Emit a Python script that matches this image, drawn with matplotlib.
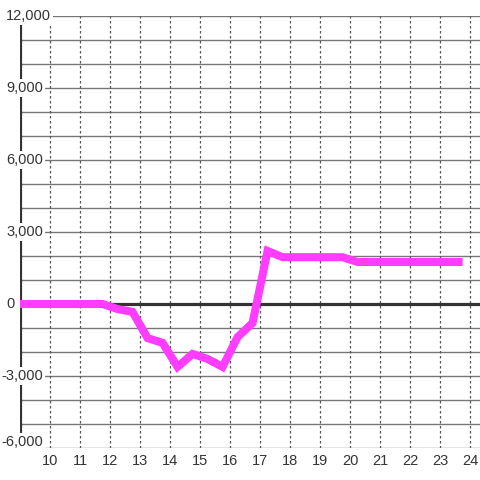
import matplotlib.pyplot as plt
from matplotlib.transforms import ScaledTranslation

plt.rcParams['font.family'] = ['Liberation Sans', 'DejaVu Sans']

# half-hour samples
hours = [9.25, 9.75, 10.25, 10.75, 11.25, 11.75, 12.25, 12.75, 13.25, 13.75,
         14.25, 14.75, 15.25, 15.75, 16.25, 16.75, 17.25, 17.75, 18.25, 18.75,
         19.25, 19.75, 20.25, 20.75, 21.25, 21.75, 22.25, 22.75, 23.25, 23.75]
values = [0, 0, 0, 0, 0, 0, -210, -330, -1420, -1620,
          -2620, -2080, -2290, -2620, -1380, -790, 2210, 1950, 1950, 1950,
          1950, 1950, 1750, 1750, 1750, 1750, 1750, 1750, 1750, 1750]

x_ticks = list(range(10, 25))
y_ticks = [-6000, -3000, 0, 3000, 6000, 9000, 12000]
y_labels = ['-6,000', '-3,000', '0', '3,000', '6,000', '9,000', '12,000']

fig = plt.figure(figsize=(4.8, 4.8), dpi=100)
ax = fig.add_axes([20 / 480, 1 - 448 / 480, 460 / 480, 432 / 480])

ax.set_xlim(9.0, 24.33)
ax.set_ylim(-6000, 12000)

# grid
for y in range(-6000, 12001, 1000):
    ax.axhline(y, color='#777777', lw=1.0, zorder=1)
for x in x_ticks:
    ax.axvline(x, color='#555555', lw=0.9, ls=(0, (2, 2)), zorder=1)

ax.axhline(0, color='#333333', lw=2.3, zorder=2)
ax.axvline(9.0, color='#333333', lw=2.3, zorder=2)

ax.plot([9.0] + hours, [0] + values, color='#ff3cff', lw=5.8,
        solid_joinstyle='miter', solid_capstyle='butt', zorder=3)

for s in ax.spines.values():
    s.set_visible(False)
ax.set_xticks([])
ax.set_yticks([])

for y, lab in zip(y_ticks, y_labels):
    xpos = 1 if lab.startswith('-') else 6
    dy = 6 if y == -6000 else 0
    off = ScaledTranslation(0, dy / 100, fig.dpi_scale_trans)
    ax.text(0, y, lab, ha='left', va='center', fontsize=10.5, color='#333333',
            transform=ax.get_yaxis_transform() + ScaledTranslation(-(20 - xpos) / 100, dy / 100, fig.dpi_scale_trans),
            bbox=dict(facecolor='white', edgecolor='none', pad=1.5), zorder=5, clip_on=False)

for x in x_ticks:
    ax.text(x, 0, str(x), ha='center', va='center', fontsize=10.5, color='#333333',
            transform=ax.get_xaxis_transform() + ScaledTranslation(0, -13 / 100, fig.dpi_scale_trans),
            clip_on=False)

fig.savefig('out.png', dpi=100, facecolor='white')
